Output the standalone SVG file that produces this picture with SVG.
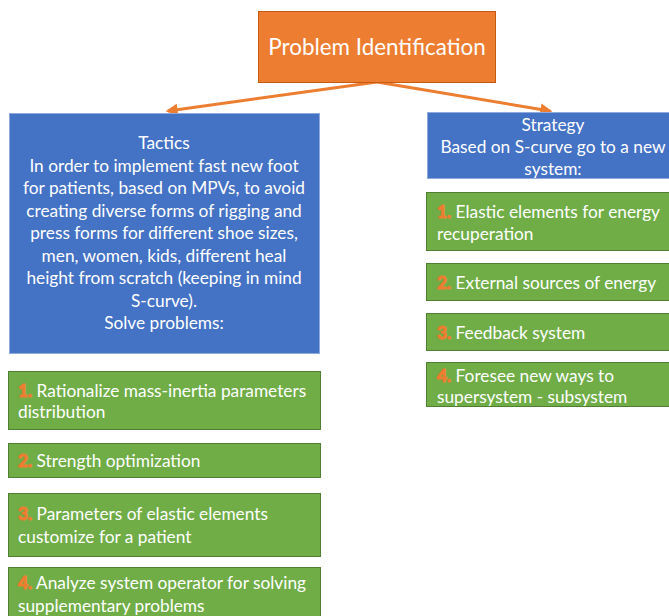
<svg xmlns="http://www.w3.org/2000/svg" width="669" height="616" viewBox="0 0 669 616">
  <defs>
    <marker id="arrow" viewBox="0 0 10 10" refX="8" refY="5" markerWidth="4.5" markerHeight="4" orient="auto" markerUnits="strokeWidth">
      <path d="M0,0 L10,5 L0,10 z" fill="#ED7D31"/>
    </marker>
    <style>
      text { font-family: "Lato", "Liberation Sans", sans-serif; font-size: 17.3px; fill: #ffffff; }
      .title { font-size: 22.4px; }
      .mid { text-anchor: middle; }
      .orange { fill: #ED7D31; stroke: #C55A11; stroke-width: 1; }
      .blue { fill: #4472C4; stroke: #8FAADC; stroke-width: 1; }
      .green { fill: #70AD47; stroke: #507E32; stroke-width: 1; }
      .num { fill: #ED7D31; stroke: #ED7D31; stroke-width: 1.2; font-weight: bold; }
      .link { stroke: #ED7D31; stroke-width: 3; fill: none; }
    </style>
  </defs>
  <rect width="669" height="616" fill="#ffffff"/>

  <g id="connectors">
    <line class="link" x1="377" y1="82" x2="168" y2="111" marker-end="url(#arrow)"/>
    <line class="link" x1="377" y1="82" x2="550" y2="111" marker-end="url(#arrow)"/>
  </g>

  <g id="problem">
    <rect class="orange" x="258.5" y="11.5" width="237" height="71"/>
    <text class="title mid" x="377" y="55">Problem Identification</text>
  </g>

  <g id="tactics">
    <rect class="blue" x="9.5" y="113.5" width="310" height="240"/>
    <text class="mid" x="164" y="149">Tactics</text>
    <text class="mid" x="164" y="172">In order to implement fast new foot</text>
    <text class="mid" x="164" y="194">for patients, based on MPVs, to avoid</text>
    <text class="mid" x="164" y="217">creating diverse forms of rigging and</text>
    <text class="mid" x="164" y="239">press forms for different shoe sizes,</text>
    <text class="mid" x="164" y="262">men, women, kids, different heal</text>
    <text class="mid" x="164" y="284">height from scratch (keeping in mind</text>
    <text class="mid" x="164" y="307">S-curve).</text>
    <text class="mid" x="164" y="329">Solve problems:</text>
  </g>

  <g id="strategy">
    <rect class="blue" x="427.5" y="112.5" width="245" height="66"/>
    <text class="mid" x="553" y="131">Strategy</text>
    <text class="mid" x="553" y="153">Based on S-curve go to a new</text>
    <text class="mid" x="553" y="175">system:</text>
  </g>

  <g id="tactic-1">
    <rect class="green" x="8.5" y="371.5" width="312" height="58"/>
    <text x="18" y="397"><tspan class="num">1.</tspan> Rationalize mass-inertia parameters</text>
    <text x="18" y="418">distribution</text>
  </g>
  <g id="tactic-2">
    <rect class="green" x="8.5" y="443.5" width="312" height="34"/>
    <text x="18" y="467"><tspan class="num">2.</tspan> Strength optimization</text>
  </g>
  <g id="tactic-3">
    <rect class="green" x="8.5" y="493.5" width="312" height="63"/>
    <text x="18" y="520"><tspan class="num">3.</tspan> Parameters of elastic elements</text>
    <text x="18" y="543">customize for a patient</text>
  </g>
  <g id="tactic-4">
    <rect class="green" x="8.5" y="567.5" width="312" height="60"/>
    <text x="18" y="589"><tspan class="num">4.</tspan> Analyze system operator for solving</text>
    <text x="18" y="612">supplementary problems</text>
  </g>

  <g id="strategy-1">
    <rect class="green" x="426.5" y="192.5" width="246" height="58"/>
    <text x="437" y="218"><tspan class="num">1.</tspan> Elastic elements for energy</text>
    <text x="437" y="240">recuperation</text>
  </g>
  <g id="strategy-2">
    <rect class="green" x="426.5" y="263.5" width="246" height="37"/>
    <text x="437" y="289"><tspan class="num">2.</tspan> External sources of energy</text>
  </g>
  <g id="strategy-3">
    <rect class="green" x="426.5" y="313.5" width="246" height="37"/>
    <text x="437" y="339"><tspan class="num">3.</tspan> Feedback system</text>
  </g>
  <g id="strategy-4">
    <rect class="green" x="426.5" y="362.5" width="246" height="44"/>
    <text x="437" y="382"><tspan class="num">4.</tspan> Foresee new ways to</text>
    <text x="437" y="403">supersystem - subsystem</text>
  </g>
</svg>
